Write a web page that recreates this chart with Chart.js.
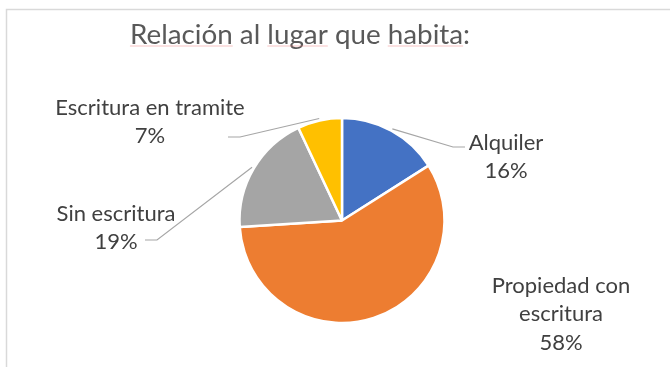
<!DOCTYPE html>
<html>
<head>
<meta charset="utf-8">
<script src="https://cdn.jsdelivr.net/npm/chart.js@4.4.0/dist/chart.umd.min.js"></script>
<style>
  html, body { margin: 0; padding: 0; background: #fff; }
  #wrap { width: 670px; height: 367px; position: relative; }
</style>
</head>
<body>
<div id="wrap"><canvas id="lugar"></canvas></div>
<script>
const titulo = 'Relación al lugar que habita:';
const categorias = ['Alquiler', 'Propiedad con escritura', 'Sin escritura', 'Escritura en tramite'];
const porcentajes = [16, 58, 19, 7];
const colores = ['#4472C4', '#ED7D31', '#A5A5A5', '#FFC000'];
// how each category name is broken over lines in its label
const etiquetas = [['Alquiler'], ['Propiedad con', 'escritura'], ['Sin escritura'], ['Escritura en tramite']];

// label placement relative to the pie centre: (dx, dy) = centre of the first text line,
// leader = elbow point of the line plus the short horizontal stub
const ubicacion = [
    { dx: 164, dy: -78, leader: { ex: 111, ey: -73.5, stub: 12 } },
    { dx: 219, dy: 65, leader: null },
    { dx: -226, dy: -7, leader: { ex: -185, ey: 19.5, stub: -12 } },
    { dx: -192, dy: -113, leader: { ex: -102, ey: -83.5, stub: -12 } }
];

const FUENTE = 'Lato, "Open Sans", sans-serif';

// light grey frame around the chart
const marco = {
    id: 'marco',
    beforeDraw(chart) {
        const ctx = chart.ctx;
        ctx.save();
        ctx.strokeStyle = '#d9d9d9';
        ctx.lineWidth = 1.5;
        ctx.strokeRect(6.5, 9.5, chart.width, chart.height);
        ctx.restore();
    }
};

// data labels with leader lines, plus the title
const rotulos = {
    id: 'rotulos',
    afterDatasetsDraw(chart) {
        const ctx = chart.ctx;
        const arcs = chart.getDatasetMeta(0).data;
        ctx.save();
        arcs.forEach((arc, i) => {
            const { x, y, startAngle, endAngle, outerRadius } =
                arc.getProps(['x', 'y', 'startAngle', 'endAngle', 'outerRadius'], true);
            const mid = (startAngle + endAngle) / 2;
            const pos = ubicacion[i];
            const lineas = etiquetas[i].concat(porcentajes[i] + '%');

            if (pos.leader) {
                const r = outerRadius + 2;
                ctx.beginPath();
                ctx.moveTo(x + Math.cos(mid) * r, y + Math.sin(mid) * r);
                ctx.lineTo(x + pos.leader.ex, y + pos.leader.ey);
                ctx.lineTo(x + pos.leader.ex + pos.leader.stub, y + pos.leader.ey);
                ctx.strokeStyle = '#a6a6a6';
                ctx.lineWidth = 1.2;
                ctx.stroke();
            }

            ctx.fillStyle = '#404040';
            ctx.font = '22px ' + FUENTE;
            ctx.textAlign = 'center';
            ctx.textBaseline = 'middle';
            lineas.forEach((t, k) => ctx.fillText(t, x + pos.dx, y + pos.dy + k * 28.8));
        });

        // title
        ctx.font = '27.8px ' + FUENTE;
        ctx.fillStyle = '#595959';
        ctx.textAlign = 'left';
        ctx.textBaseline = 'alphabetic';
        const ancho = ctx.measureText(titulo).width;
        const x0 = 300 - ancho / 2;
        const yb = 43.5;
        ctx.fillText(titulo, x0, yb);

        // thin light red underlines under a few title words
        ctx.strokeStyle = 'rgba(235, 120, 120, 0.45)';
        ctx.lineWidth = 1;
        ['Relación', 'lugar', 'habita'].forEach(p => {
            const ini = titulo.indexOf(p);
            const a = x0 + ctx.measureText(titulo.slice(0, ini)).width;
            const b = a + ctx.measureText(p).width;
            ctx.beginPath();
            ctx.moveTo(a, yb + 2.5);
            ctx.lineTo(b, yb + 2.5);
            ctx.stroke();
        });
        ctx.restore();
    }
};

const ctxLugar = document.getElementById('lugar').getContext('2d');
const graficoLugar = new Chart(ctxLugar, {
    type: 'pie',
    data: {
        labels: categorias,
        datasets: [{
            data: porcentajes,
            backgroundColor: colores,
            borderColor: '#ffffff',
            borderWidth: 2.5,
            radius: 102.5
        }]
    },
    options: {
        responsive: true,
        maintainAspectRatio: false,
        animation: false,
        layout: {
            padding: { left: 20, right: 6, top: 80, bottom: 6 }
        },
        plugins: {
            legend: { display: false },
            tooltip: { enabled: false },
            title: { display: false }
        }
    },
    plugins: [marco, rotulos]
});
</script>
</body>
</html>
